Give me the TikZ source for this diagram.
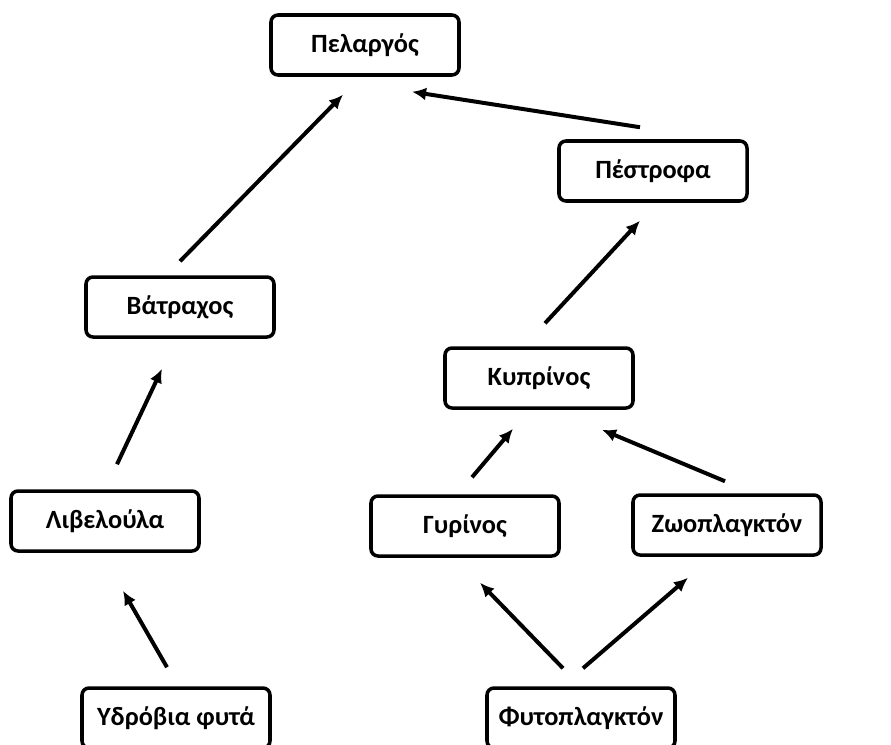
\documentclass[tikz,border=0pt]{standalone}
\usepackage{fontspec}
\setmainfont{Carlito}
\usetikzlibrary{arrows.meta}

\begin{document}
\begin{tikzpicture}[x=0.03cm,y=-0.03cm,>={Latex[length=12pt,width=11pt]}]
\tikzset{
  organism/.style={draw,line width=3pt,rounded corners=6pt,fill=white,
    minimum width=188*0.03cm,minimum height=60*0.03cm,
    font=\fontsize{22.5}{26}\selectfont\bfseries,inner sep=0pt},
  feed/.style={->,line width=3.4pt}
}
\useasboundingbox (0,0) rectangle (891,744);

% Organisms
\node[organism] (pelargos) at (365,45) {Πελαργός};
\node[organism] (pestrofa) at (653,171) {Πέστροφα};
\node[organism] (vatrachos) at (180,307) {Βάτραχος};
\node[organism] (kyprinos) at (539,378) {Κυπρίνος};
\node[organism] (libeloula) at (105,521) {Λιβελούλα};
\node[organism] (gyrinos) at (465,526) {Γυρίνος};
\node[organism] (zoo) at (727,525) {Ζωοπλαγκτόν};
\node[organism] (ydrovia) at (176,718) {Υδρόβια φυτά};
\node[organism] (fyto) at (581,718) {Φυτοπλαγκτόν};

% Who eats whom
\draw[feed] ([shift={(0,-14)}]vatrachos.north) -- ([shift={(-22,18)}]pelargos.south);
\draw[feed] ([shift={(-13,-12)}]pestrofa.north) -- ([shift={(47,15)}]pelargos.south);
\draw[feed] ([shift={(6,-23)}]kyprinos.north) -- ([shift={(-13,18)}]pestrofa.south);
\draw[feed] ([shift={(12,-25)}]libeloula.north) -- ([shift={(-18,30)}]vatrachos.south);
\draw[feed] ([shift={(7,-17)}]gyrinos.north) -- ([shift={(-26,19)}]kyprinos.south);
\draw[feed] ([shift={(-2,-12)}]zoo.north) -- ([shift={(63,20)}]kyprinos.south);
\draw[feed] ([shift={(-9,-19)}]ydrovia.north) -- ([shift={(18,38)}]libeloula.south);
\draw[feed] ([shift={(-18,-18)}]fyto.north) -- ([shift={(15,25)}]gyrinos.south);
\draw[feed] ([shift={(2,-18)}]fyto.north) -- ([shift={(-39,21)}]zoo.south);
\end{tikzpicture}
\end{document}
